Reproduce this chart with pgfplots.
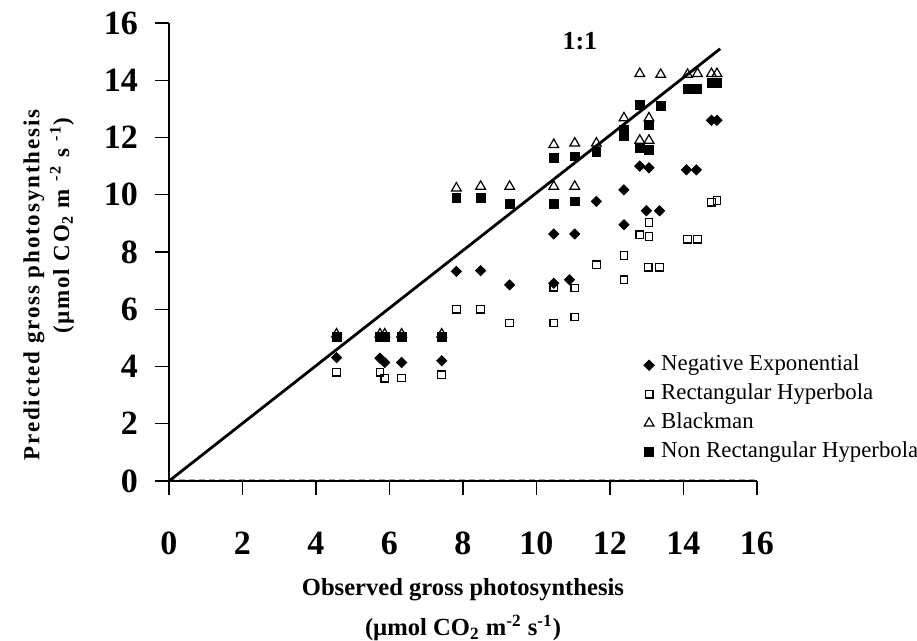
\documentclass[border=0pt]{standalone}
\usepackage{fontspec}
\setmainfont{Liberation Serif}
\usepackage{pgfplots}
\pgfplotsset{compat=1.18}
\usetikzlibrary{calc}

% observed vs predicted gross photosynthesis, four light-response models
\pgfplotstableread{
x y
4.56 4.31
5.74 4.29
5.87 4.14
6.33 4.14
7.42 4.20
7.82 7.32
8.48 7.35
9.27 6.85
10.47 6.91
10.47 8.63
10.90 7.03
11.04 8.63
11.63 9.77
12.38 10.17
12.38 8.95
12.81 11.00
13.06 10.94
12.99 9.44
13.35 9.44
14.08 10.87
14.35 10.87
14.76 12.60
14.91 12.60
}\negexp

\pgfplotstableread{
x y
4.56 3.80
5.74 3.80
5.87 3.59
6.33 3.60
7.42 3.71
7.82 6.00
8.48 6.00
9.27 5.52
10.47 6.77
10.47 5.52
11.04 6.74
11.04 5.73
11.63 7.55
12.38 7.88
12.38 7.03
12.81 8.60
13.06 9.03
13.06 8.54
13.04 7.47
13.35 7.47
14.11 8.45
14.38 8.45
14.76 9.74
14.91 9.80
}\recthyp

\pgfplotstableread{
x y
4.56 5.13
5.74 5.13
5.87 5.13
6.33 5.13
7.42 5.13
7.82 10.23
8.48 10.29
9.27 10.29
10.47 10.29
10.47 11.75
11.04 10.29
11.04 11.80
11.63 11.80
12.38 12.68
12.81 11.90
12.81 14.23
13.06 12.68
13.06 11.90
13.38 14.20
14.11 14.20
14.38 14.23
14.76 14.23
14.91 14.23
}\blackman

\pgfplotstableread{
x y
4.56 5.02
5.74 5.02
5.87 5.02
6.33 5.02
7.42 5.02
7.82 9.88
8.48 9.88
9.27 9.67
10.47 9.67
10.47 11.30
11.04 9.77
11.04 11.34
11.63 11.51
12.38 12.27
12.38 12.04
12.81 11.63
12.81 13.15
13.06 12.45
13.06 11.57
13.38 13.09
14.11 13.70
14.38 13.70
14.76 13.91
14.91 13.91
}\nonrect

\newcommand\ylabfont{\fontsize{11.5}{13}\selectfont\bfseries\addfontfeature{LetterSpace=8}}

\begin{document}
\begin{tikzpicture}
\useasboundingbox (-84.5pt,-80pt) rectangle (374pt,240.5pt);
\begin{axis}[
  width=294pt, height=229pt, scale only axis,
  xmin=0, xmax=16, ymin=0, ymax=16,
  xtick={0,2,...,16}, ytick={0,2,...,16},
  axis lines=left, axis line style={-, line width=0.6pt},
  tick align=outside, major tick length=7pt,
  tick style={black, line width=0.6pt},
  /pgf/number format/assume math mode=true,
  tick label style={font=\fontsize{17}{20}\selectfont\bfseries},
  xticklabel style={yshift=-15pt},
  yticklabel style={xshift=-5pt},
  clip=false,
  legend cell align=left,
  legend style={draw=none, fill=none, at={(0.797,0.294)}, anchor=north west,
    font=\fontsize{11.4}{14}\selectfont, row sep=0pt,
    nodes={inner sep=1.5pt, text height=8.5pt, text depth=3pt},
    /tikz/every odd column/.append style={column sep=2pt}},
  legend image code/.code={\draw[#1] plot coordinates {(0.08cm,0cm)};},
]
\addplot[gray!70, dash pattern=on 3pt off 2pt, line width=0.4pt, forget plot]
  coordinates {(0,0.06) (16,0.06)};
\addplot[black, line width=1.4pt, forget plot] coordinates {(0,0) (15,15.1)};

\addplot[only marks, mark=square*, mark size=1.8pt,
  mark options={rotate=45, fill=black}] table {\negexp};
\addlegendentry{Negative Exponential}
\addplot[only marks, mark=square, mark size=1.9pt,
  mark options={line width=0.6pt}] table {\recthyp};
\addlegendentry{Rectangular Hyperbola}
\addplot[only marks, mark=triangle, mark size=2.8pt,
  mark options={line width=0.6pt}] table {\blackman};
\addlegendentry{Blackman}
\addplot[only marks, mark=square*, mark size=2.2pt,
  mark options={fill=black}] table {\nonrect};
\addlegendentry{Non Rectangular Hyperbola}

\node[font=\fontsize{13}{15}\selectfont\bfseries] at (axis cs:11.18,15.38) {1:1};

\node[font=\fontsize{12.3}{14}\selectfont\bfseries] at ($(rel axis cs:0.5,0)+(0,-54.5pt)$)
  {Observed gross photosynthesis};
\node[font=\fontsize{12.3}{14}\selectfont\bfseries] at ($(rel axis cs:0.5,0)+(0,-73.5pt)$)
  {(µmol CO\textsubscript{2} m\textsuperscript{-2} s\textsuperscript{-1})};
\node[rotate=90, font=\ylabfont] at ($(rel axis cs:0,0)+(-67.5pt,98pt)$)
  {Predicted gross photosynthesis};
\node[rotate=90, font=\ylabfont] at ($(rel axis cs:0,0)+(-53.5pt,127.5pt)$)
  {(µmol CO\textsubscript{2} m \textsuperscript{-2} s \textsuperscript{-1})};
\end{axis}
\end{tikzpicture}
\end{document}
